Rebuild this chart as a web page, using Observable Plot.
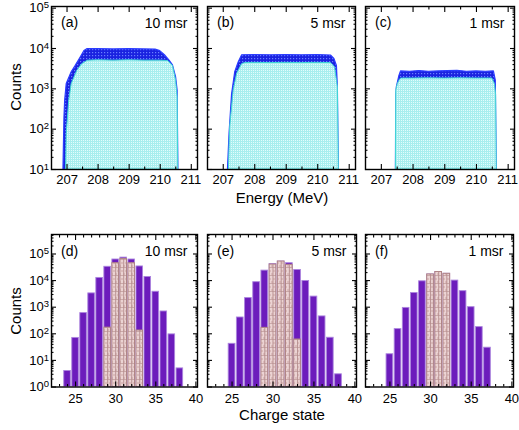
<!DOCTYPE html>
<html><head><meta charset="utf-8">
<script src="https://cdn.jsdelivr.net/npm/d3@7"></script>
<script src="https://cdn.jsdelivr.net/npm/@observablehq/plot@0.6"></script>
<style>
html,body{margin:0;padding:0;background:#fff;}
#fig{position:relative;width:519px;height:430px;overflow:hidden;font-family:"Liberation Sans",Arial,Helvetica,sans-serif;}
#fig svg{position:absolute;overflow:visible;background:transparent;}
</style></head><body><div id="fig"></div>
<script>
// ---------------- data ----------------
// Energy spectra (top row): outer (dark blue) and inner (cyan) distributions
const energyA_blue = [206.885, 206.917, 206.94, 206.99, 207.15, 207.28, 207.44, 207.56, 207.65, 208.0, 208.5, 209.0, 209.5, 209.85, 210.0, 210.15, 210.3, 210.41, 210.51, 210.56, 210.585];
const countsA_blue = [10, 195, 510, 1320, 2570, 3700, 6000, 8700, 9600, 9600, 9500, 9600, 9500, 9400, 8600, 6800, 5000, 3800, 1950, 900, 10];
const energyA_cyan = [206.97, 206.99, 207.07, 207.15, 207.33, 207.49, 207.67, 208.0, 208.5, 209.0, 209.5, 210.0, 210.25, 210.41, 210.51, 210.56, 210.58];
const countsA_cyan = [10, 76, 510, 1320, 2800, 4100, 5000, 5100, 5000, 5100, 5000, 5000, 4900, 3700, 1600, 620, 10];

const energyB_blue = [207.15, 207.20, 207.28, 207.38, 207.49, 207.60, 208.0, 208.5, 209.0, 209.5, 210.0, 210.42, 210.53, 210.61, 210.64, 210.67];
const countsB_blue = [10, 76, 720, 2570, 4500, 6800, 6900, 6800, 6900, 6800, 6900, 6700, 5500, 3700, 1100, 10];
const energyB_cyan = [207.18, 207.22, 207.33, 207.44, 207.60, 207.70, 208.0, 208.5, 209.0, 209.5, 210.0, 210.42, 210.55, 210.64, 210.67];
const countsB_cyan = [10, 112, 890, 2350, 4100, 4350, 4400, 4350, 4400, 4350, 4400, 4350, 3400, 1100, 10];

const energyC_blue = [207.46, 207.47, 207.49, 207.57, 207.62, 207.9, 208.2, 208.5, 208.8, 209.1, 209.4, 209.7, 210.0, 210.3, 210.55, 210.61, 210.64];
const countsC_blue = [10, 700, 1100, 2100, 2700, 2650, 2750, 2650, 2700, 2750, 2800, 2650, 2700, 2650, 2700, 1600, 10];
const energyC_cyan = [207.46, 207.47, 207.52, 207.60, 207.65, 208.0, 208.5, 209.0, 209.5, 210.0, 210.5, 210.58, 210.62, 210.64];
const countsC_cyan = [10, 900, 1320, 1740, 1800, 1800, 1820, 1800, 1820, 1800, 1800, 1320, 700, 10];

// Charge-state distributions (bottom row)
const chargesD = [24, 25, 26, 27, 28, 29, 30, 31, 32, 33, 34, 35, 36, 37, 38];
const countsD_all = [4, 70, 600, 3300, 12600, 33000, 62000, 73000, 62000, 34000, 13700, 3800, 690, 95, 5];
const chargesD_sel = [29, 30, 31, 32, 33];
const countsD_sel = [170, 45000, 65000, 45000, 133];

const chargesE = [25, 26, 27, 28, 29, 30, 31, 32, 33, 34, 35, 36, 37, 38];
const countsE_all = [42, 410, 2200, 8700, 23700, 42000, 52000, 45000, 25000, 9700, 2500, 450, 71, 3];
const chargesE_sel = [29, 30, 31, 32, 33];
const countsE_sel = [167, 40000, 52000, 39000, 61];

const chargesF = [25, 26, 27, 28, 29, 30, 31, 32, 33, 34, 35, 36, 37];
const countsF_all = [17, 150, 940, 3400, 9400, 17000, 21000, 18000, 10000, 4000, 1000, 178, 30];
const chargesF_sel = [30, 31, 32];
const countsF_sel = [17000, 21000, 18000];

// Panel texts
const panelTags = ["(a)", "(b)", "(c)", "(d)", "(e)", "(f)"];
const solidAngles = ["10 msr", "5 msr", "1 msr", "10 msr", "5 msr", "1 msr"];
const titleCounts = "Counts";
const titleEnergy = "Energy (MeV)";
const titleCharge = "Charge state";

// Ticks
const energyDomain = [206.5, 211.2];
const energyTicks = [207, 208, 209, 210, 211];
const energyMinor = [207.5, 208.5, 209.5, 210.5];
const countTopDomain = [10, 1.1e5];
const countTopTicks = [10, 100, 1000, 10000, 100000];
const chargeDomain = [22, 40.2];
const chargeTicks = [25, 30, 35, 40];
const chargeMinor = [23, 24, 26, 27, 28, 29, 31, 32, 33, 34, 36, 37, 38, 39];
const countBotDomain = [1, 5.4e5];
const countBotTicks = [1, 10, 100, 1000, 10000, 100000];
const minorMultipliers = [2, 3, 4, 5, 6, 7, 8, 9];

// ---------------- helpers ----------------
const FONT = '"Liberation Sans", Arial, Helvetica, sans-serif';
const fig = document.getElementById("fig");
const zip = (xs, ys, kx, ky) => xs.map((v, i) => ({[kx]: v, [ky]: ys[i]}));
const minorOf = (majors, max) => majors.flatMap(m => minorMultipliers.map(k => k * m)).filter(v => v <= max);

// pattern definitions
const defsSvg = d3.create("svg").attr("width", 0).attr("height", 0).style("position", "absolute");
const defs = defsSvg.append("defs");
{
  const pb = defs.append("pattern").attr("id", "pBlue").attr("patternUnits", "userSpaceOnUse").attr("width", 3).attr("height", 3);
  pb.append("rect").attr("width", 3).attr("height", 3).attr("fill", "#1a22e0");
  pb.append("rect").attr("x", 1).attr("y", 1).attr("width", 1.2).attr("height", 1.2).attr("fill", "#6a80ff");
  const pc = defs.append("pattern").attr("id", "pCyan").attr("patternUnits", "userSpaceOnUse").attr("width", 2).attr("height", 2);
  pc.append("rect").attr("width", 2).attr("height", 2).attr("fill", "#a8eeee");
  pc.append("rect").attr("width", 1).attr("height", 1).attr("fill", "#e2fcfc");
  const pp = defs.append("pattern").attr("id", "pPink").attr("patternUnits", "userSpaceOnUse").attr("width", 4).attr("height", 8);
  pp.append("rect").attr("width", 4).attr("height", 8).attr("fill", "#ebd3d3");
  pp.append("rect").attr("x", 0).attr("y", 2).attr("width", 2).attr("height", 2).attr("fill", "#dcbcbc");
  pp.append("rect").attr("x", 2).attr("y", 5).attr("width", 2).attr("height", 2).attr("fill", "#dcbcbc");
  pp.append("rect").attr("x", 0).attr("y", 7.4).attr("width", 4).attr("height", 0.8).attr("fill", "#b48c8c");
}
fig.appendChild(defsSvg.node());

function frameTicks(xMaj, xMin, yMaj, yMin) {
  const o = {fill: "none", label: null, stroke: "black", strokeWidth: 1.1};
  return [
    Plot.axisX(xMaj, {...o, anchor: "bottom", tickSize: -5}),
    Plot.axisX(xMaj, {...o, anchor: "top", tickSize: -5}),
    Plot.axisX(xMin, {...o, anchor: "bottom", tickSize: -2.5}),
    Plot.axisX(xMin, {...o, anchor: "top", tickSize: -2.5}),
    Plot.axisY(yMaj, {...o, anchor: "left", tickSize: -5}),
    Plot.axisY(yMaj, {...o, anchor: "right", tickSize: -5}),
    Plot.axisY(yMin, {...o, anchor: "left", tickSize: -2.5}),
    Plot.axisY(yMin, {...o, anchor: "right", tickSize: -2.5})
  ];
}

function superscriptify(svg) {
  svg.querySelectorAll("text").forEach(t => {
    const m = /^10\^(\d+)$/.exec(t.textContent);
    if (!m) return;
    t.textContent = "10";
    const s = document.createElementNS("http://www.w3.org/2000/svg", "tspan");
    s.setAttribute("dy", "-0.42em");
    s.setAttribute("font-size", "9.5px");
    s.textContent = m[1];
    t.appendChild(s);
  });
}

function place(svg, left, top) {
  svg.style.position = "absolute";
  svg.style.left = left + "px";
  svg.style.top = top + "px";
  svg.style.background = "transparent";
  svg.style.overflow = "visible";
  superscriptify(svg);
  fig.appendChild(svg);
}

const mL = 50, mR = 12, mT = 6, mB = 30;
const topFrames = [];

function xLabels(ticks, yBottom, pad) {
  return Plot.text(ticks, {x: d => d, y: yBottom, dy: pad, lineAnchor: "top", text: d => String(d), fontSize: 13, fill: "black"});
}

function spectrumPanel(i, frameLeft, frameW, blue, cyan, showY) {
  const frameTop = 6, frameH = 163;
  const marks = [
    Plot.areaY(blue, {x: "e", y1: 10, y2: "c", fill: "url(#pBlue)", stroke: "#2b3cff", strokeWidth: 1.2, clip: true}),
    Plot.areaY(cyan, {x: "e", y1: 10, y2: "c", fill: "url(#pCyan)", stroke: "#3fd6d6", strokeWidth: 1, clip: true}),
    Plot.frame({stroke: "black", strokeWidth: 1.4}),
    ...frameTicks(energyTicks, energyMinor, countTopTicks, minorOf(countTopTicks, 1.1e5)),
    xLabels(energyTicks.slice(0, -1), countTopDomain[0], 5.5),
    Plot.text([panelTags[i]], {frameAnchor: "top-left", dx: 9.5, dy: 11, lineAnchor: "top", fontSize: 14, fill: "black"}),
    Plot.text([solidAngles[i]], {frameAnchor: "top-right", dx: -10, dy: 12, lineAnchor: "top", textAnchor: "end", fontSize: 14, fill: "black"})
  ];
  if (showY) marks.push(Plot.axisY(countTopTicks, {anchor: "left", tickSize: 0, tickPadding: 2.5, label: null, fontSize: 13, tickFormat: d => "10^" + Math.round(Math.log10(d))}));
  const svg = Plot.plot({
    width: mL + frameW + mR, height: mT + frameH + mB,
    marginLeft: mL, marginRight: mR, marginTop: mT, marginBottom: mB,
    style: {fontFamily: FONT, fontSize: "13px", color: "black", overflow: "visible"},
    x: {domain: energyDomain}, y: {type: "log", domain: countTopDomain}, marks
  });
  place(svg, frameLeft - mL, frameTop - mT);
  topFrames.push({scale: svg.scale("x"), left: frameLeft - mL, bottom: frameTop + frameH});
}

function chargePanel(i, frameLeft, frameW, all, sel, showY) {
  const frameTop = 234, frameH = 152.5;
  const marks = [
    Plot.rect(all, {x1: d => d.q - 0.41, x2: d => d.q + 0.41, y1: 1, y2: "c", fill: "#6c1cbc", stroke: "#ab84de", strokeWidth: 0.9, clip: true}),
    Plot.rect(sel, {x1: d => d.q - 0.41, x2: d => d.q + 0.41, y1: 1, y2: "c", fill: "url(#pPink)", stroke: "#b08585", strokeWidth: 1, clip: true}),
    Plot.ruleX(sel, {x: "q", y1: 1, y2: "c", stroke: "#b48c8c", strokeWidth: 0.9, clip: true}),
    Plot.frame({stroke: "black", strokeWidth: 1.4}),
    ...frameTicks(chargeTicks, chargeMinor, countBotTicks, minorOf(countBotTicks, 5.4e5)),
    xLabels(chargeTicks, countBotDomain[0], 7),
    Plot.text([panelTags[i]], {frameAnchor: "top-left", dx: 9.5, dy: 12, lineAnchor: "top", fontSize: 14, fill: "black"}),
    Plot.text([solidAngles[i]], {frameAnchor: "top-right", dx: -10, dy: 12, lineAnchor: "top", textAnchor: "end", fontSize: 14, fill: "black"})
  ];
  if (showY) marks.push(Plot.axisY(countBotTicks, {anchor: "left", tickSize: 0, tickPadding: 2.5, label: null, fontSize: 13, tickFormat: d => "10^" + Math.round(Math.log10(d))}));
  const svg = Plot.plot({
    width: mL + frameW + mR, height: mT + frameH + mB,
    marginLeft: mL, marginRight: mR, marginTop: mT, marginBottom: mB,
    style: {fontFamily: FONT, fontSize: "13px", color: "black", overflow: "visible"},
    x: {domain: chargeDomain},
    y: {type: "log", domain: countBotDomain},
    marks
  });
  place(svg, frameLeft - mL, frameTop - mT);
}

spectrumPanel(0, 51, 146, zip(energyA_blue, countsA_blue, "e", "c"), zip(energyA_cyan, countsA_cyan, "e", "c"), true);
spectrumPanel(1, 207, 148, zip(energyB_blue, countsB_blue, "e", "c"), zip(energyB_cyan, countsB_cyan, "e", "c"), false);
spectrumPanel(2, 365, 149, zip(energyC_blue, countsC_blue, "e", "c"), zip(energyC_cyan, countsC_cyan, "e", "c"), false);

chargePanel(3, 51, 146, zip(chargesD, countsD_all, "q", "c"), zip(chargesD_sel, countsD_sel, "q", "c"), true);
chargePanel(4, 207, 149, zip(chargesE, countsE_all, "q", "c"), zip(chargesE_sel, countsE_sel, "q", "c"), false);
chargePanel(5, 365, 148, zip(chargesF, countsF_all, "q", "c"), zip(chargesF_sel, countsF_sel, "q", "c"), false);

// axis titles and the last energy tick label (positioned with each panel's Plot x scale)
const ov = d3.create("svg").attr("width", 519).attr("height", 430)
  .style("position", "absolute").style("left", "0px").style("top", "0px")
  .attr("font-family", FONT).attr("font-size", 15).attr("fill", "black");
ov.append("text").attr("transform", "translate(21,87) rotate(-90)").attr("text-anchor", "middle").text(titleCounts);
ov.append("text").attr("transform", "translate(21,311) rotate(-90)").attr("text-anchor", "middle").text(titleCounts);
ov.append("text").attr("x", 282).attr("y", 202.5).attr("text-anchor", "middle").text(titleEnergy);
ov.append("text").attr("x", 282).attr("y", 420).attr("text-anchor", "middle").text(titleCharge);
const lastTick = energyTicks[energyTicks.length - 1];
for (const f of topFrames) {
  ov.append("text").attr("x", f.left + f.scale.apply(lastTick)).attr("y", f.bottom + 5.5 + 9.3)
    .attr("text-anchor", "middle").attr("font-size", 13).text(String(lastTick));
}
fig.appendChild(ov.node());
</script></body></html>
